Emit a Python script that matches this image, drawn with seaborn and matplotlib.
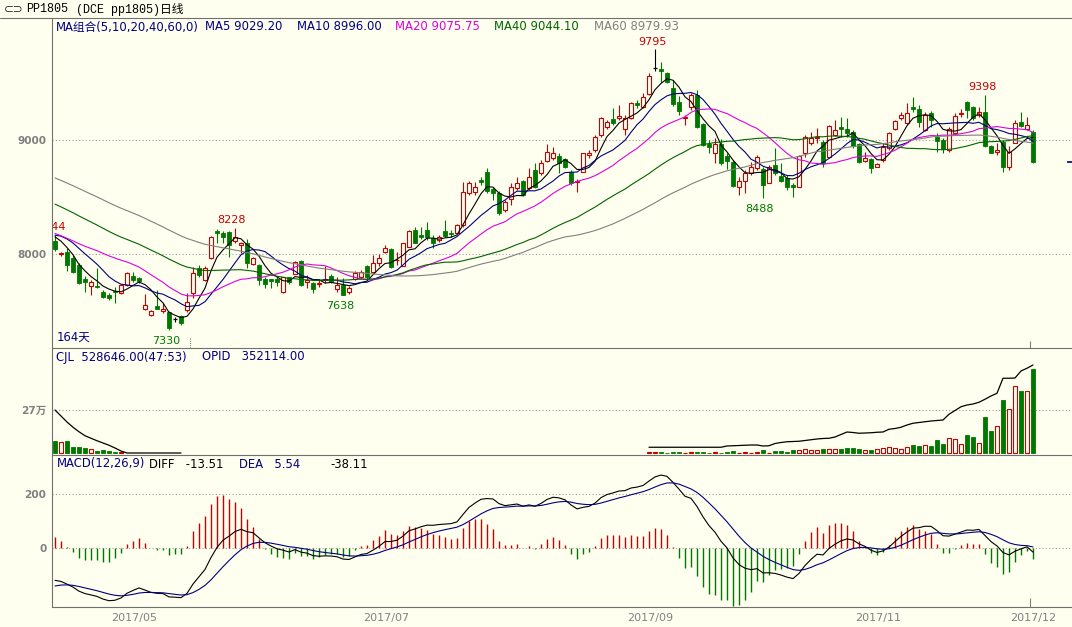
import numpy as np
import pandas as pd
import seaborn as sns
import matplotlib.pyplot as plt
from matplotlib.patches import Rectangle
from matplotlib.lines import Line2D

# closes before the first visible bar, only used so MA / MACD start at the right level
hist_close = [9300, 9280, 9250, 9260, 9220, 9200, 9180, 9170, 9150, 9130,
              9120, 9100, 9080, 9060, 9050, 9030, 9010, 9000, 8980, 8960,
              8950, 8920, 8900, 8870, 8840, 8800, 8780, 8750, 8720, 8700,
              8680, 8650, 8630, 8600, 8580, 8550, 8530, 8500, 8480, 8450,
              8400, 8350, 8300, 8250, 8200, 8150, 8100, 8080, 8060, 8050,
              8100, 8150, 8200, 8220, 8230, 8200, 8180, 8160, 8170]

opens = [8110, 8000, 8021, 7968, 7904, 7778, 7720, 7720, 7670, 7640,
         7678, 7655, 7728, 7807, 7787, 7515, 7465, 7544, 7500, 7494,
         7430, 7456, 7509, 7655, 7875, 7772, 7962, 8205, 8187, 8196,
         8117, 8079, 8100, 7910, 7904, 7778, 7778, 7778, 7670, 7795,
         7825, 7939, 7757, 7743, 7737, 7772, 7807, 7690, 7728, 7670,
         7777, 7801, 7894, 7845, 7923, 8020, 8040, 7945, 7897, 8064,
         8210, 8166, 8210, 8137, 8122, 8201, 8187, 8187, 8254, 8532,
         8546, 8649, 8722, 8570, 8535, 8390, 8480, 8576, 8643, 8576,
         8737, 8707, 8818, 8839, 8860, 8836, 8722, 8634, 8722, 8868,
         8912, 9044, 9111, 9181, 9190, 9094, 9190, 9321, 9292, 9404,
         9629, 9620, 9585, 9459, 9336, 9190, 9287, 9395, 9140, 8965,
         8889, 8965, 8860, 8810, 8591, 8643, 8713, 8751, 8743, 8626,
         8781, 8684, 8664, 8605, 8591, 8883, 8970, 9015, 8985, 8848,
         9044, 9117, 9094, 9073, 8965, 8819, 8830, 8766, 8825, 8927,
         9094, 9190, 9147, 9286, 9269, 9088, 9240, 9029, 9000, 8912,
         9058, 9228, 9336, 9286, 9219, 9248, 8947, 8898, 8985, 8760,
         8976, 9161, 9094, 9073]
highs = [8165, 8015, 8050, 7990, 7918, 7807, 7772, 7874, 7680, 7661,
         7708, 7740, 7845, 7845, 7796, 7646, 7505, 7685, 7567, 7500,
         7450, 7465, 7655, 7889, 7904, 7890, 8160, 8217, 8205, 8205,
         8228, 8108, 8129, 7970, 7910, 7795, 7784, 7795, 7801, 7801,
         7940, 7948, 7816, 7757, 7778, 7895, 7825, 7796, 7787, 7720,
         7850, 7860, 7900, 7990, 7997, 8078, 8050, 8020, 8100, 8210,
         8240, 8240, 8283, 8166, 8166, 8298, 8210, 8260, 8634, 8640,
         8634, 8678, 8751, 8590, 8550, 8470, 8620, 8678, 8649, 8751,
         8795, 8825, 8965, 8940, 8883, 8839, 8737, 8655, 8890, 8912,
         9046, 9205, 9175, 9277, 9307, 9220, 9336, 9350, 9415, 9585,
         9795, 9687, 9600, 9527, 9386, 9219, 9409, 9439, 9146, 9000,
         9015, 9006, 8883, 8820, 8678, 8737, 8810, 8868, 8766, 8780,
         8927, 8795, 8693, 8620, 8868, 9044, 9073, 9102, 9000, 9132,
         9175, 9205, 9190, 9088, 8976, 8898, 8839, 8795, 8970, 9073,
         9175, 9248, 9322, 9374, 9307, 9248, 9257, 9058, 9015, 9117,
         9234, 9269, 9345, 9298, 9286, 9398, 8956, 8970, 9000, 8947,
         9175, 9248, 9205, 9088]
lows = [8030, 7980, 7854, 7835, 7740, 7670, 7640, 7700, 7610, 7597,
        7568, 7650, 7720, 7757, 7743, 7509, 7460, 7515, 7480, 7330,
        7405, 7380, 7494, 7611, 7800, 7765, 7955, 8100, 8094, 7977,
        8100, 8006, 7875, 7905, 7725, 7700, 7700, 7720, 7655, 7737,
        7820, 7720, 7700, 7661, 7708, 7749, 7749, 7670, 7638, 7650,
        7770, 7790, 7770, 7830, 7895, 8005, 7875, 7903, 7890, 8060,
        8093, 8128, 8122, 8050, 8108, 8152, 8152, 8180, 8240, 8517,
        8517, 8605, 8532, 8473, 8340, 8370, 8430, 8561, 8508, 8561,
        8576, 8693, 8810, 8825, 8708, 8751, 8605, 8547, 8715, 8839,
        8898, 9029, 9100, 9131, 9175, 9044, 9181, 9277, 9277, 9395,
        9608, 9512, 9503, 9300, 9219, 9132, 9263, 9102, 8950, 8889,
        8795, 8781, 8743, 8590, 8517, 8532, 8693, 8737, 8488, 8620,
        8693, 8634, 8561, 8500, 8585, 8854, 8956, 8970, 8766, 8839,
        9035, 9029, 9029, 8927, 8795, 8810, 8708, 8760, 8810, 8910,
        9088, 9175, 9140, 9248, 9117, 9080, 9117, 8898, 8889, 8898,
        9044, 9200, 9190, 9175, 9205, 8942, 8883, 8868, 8722, 8737,
        8970, 9117, 9088, 8795]
closes = [8041, 8008, 7904, 7845, 7743, 7758, 7758, 7713, 7620, 7611,
          7667, 7728, 7836, 7772, 7766, 7553, 7500, 7520, 7515, 7348,
          7430, 7392, 7582, 7836, 7816, 7875, 8152, 8182, 8152, 8079,
          8152, 8100, 7918, 7962, 7772, 7737, 7764, 7757, 7795, 7757,
          7933, 7728, 7772, 7690, 7749, 7784, 7757, 7728, 7641, 7700,
          7830, 7845, 7795, 7918, 7967, 8055, 7883, 7950, 8093, 8201,
          8099, 8146, 8152, 8099, 8152, 8157, 8175, 8254, 8546, 8625,
          8590, 8631, 8555, 8532, 8360, 8460, 8590, 8625, 8517, 8678,
          8591, 8795, 8898, 8883, 8801, 8760, 8620, 8643, 8883, 8889,
          9029, 9190, 9161, 9152, 9210, 9190, 9327, 9307, 9380, 9561,
          9629, 9602, 9512, 9316, 9257, 9205, 9395, 9117, 8956, 8942,
          8965, 8795, 8819, 8597, 8643, 8713, 8766, 8854, 8605, 8760,
          8708, 8643, 8591, 8585, 8860, 9029, 9014, 9029, 8801, 9123,
          9088, 9094, 9058, 8947, 8810, 8839, 8751, 8787, 8936, 9058,
          9170, 9219, 9240, 9269, 9161, 9219, 9175, 8994, 8918, 9094,
          9210, 9240, 9263, 9190, 9248, 8947, 8889, 8912, 8766, 8898,
          9146, 9123, 9132, 8810]

volume = [75000, 67000, 75000, 36000, 36000, 29000, 23000, 15000, 19000, 13000,
          8000, 4000, 0, 0, 0, 0, 0, 0, 0, 0,
          0, 0, 0, 0, 0, 0, 0, 0, 0, 0,
          0, 0, 0, 0, 0, 0, 0, 0, 0, 0,
          0, 0, 0, 0, 0, 0, 0, 0, 0, 0,
          0, 0, 0, 0, 0, 0, 0, 0, 0, 0,
          0, 0, 0, 0, 0, 0, 0, 0, 0, 0,
          0, 0, 0, 0, 0, 0, 0, 0, 0, 0,
          0, 0, 0, 0, 0, 0, 0, 0, 0, 0,
          0, 0, 0, 0, 0, 0, 0, 0, 0, 4000,
          4000, 4000, 2000, 4000, 4000, 3000, 4000, 4000, 4000, 2000,
          4000, 2000, 4000, 10000, 2000, 4000, 1000, 4000, 19000, 2000,
          10000, 10000, 4000, 19000, 19000, 23000, 19000, 19000, 23000, 23000,
          23000, 25000, 29000, 29000, 23000, 19000, 19000, 25000, 29000, 40000,
          29000, 25000, 40000, 48000, 44000, 48000, 44000, 82000, 57000, 92000,
          86000, 54000, 111000, 98000, 61000, 224000, 140000, 170000, 333000, 276000,
          421000, 391000, 389000, 528646]

nan = np.nan
opid = [172000, 148000, 124000, 103000, 85000, 69000, 59000, 49000, 40000, 31000,
        20000, 8000, 0, 0, 0, 0, 0, 0, 0, 0,
        0, 0, nan, nan, nan, nan, nan, nan, nan, nan,
        nan, nan, nan, nan, nan, nan, nan, nan, nan, nan,
        nan, nan, nan, nan, nan, nan, nan, nan, nan, nan,
        nan, nan, nan, nan, nan, nan, nan, nan, nan, nan,
        nan, nan, nan, nan, nan, nan, nan, nan, nan, nan,
        nan, nan, nan, nan, nan, nan, nan, nan, nan, nan,
        nan, nan, nan, nan, nan, nan, nan, nan, nan, nan,
        nan, nan, nan, nan, nan, nan, nan, nan, nan, 23000,
        23000, 23000, 23000, 23000, 23000, 23000, 23000, 23000, 23000, 23000,
        23000, 23000, 28000, 29000, 30000, 31000, 32000, 32000, 28000, 29000,
        38000, 42000, 45000, 46000, 47000, 50000, 53000, 56000, 58000, 59000,
        64000, 74000, 84000, 82000, 79000, 80000, 81000, 83000, 84000, 95000,
        98000, 103000, 112000, 119000, 122000, 125000, 128000, 130000, 132000, 155000,
        170000, 185000, 192000, 196000, 203000, 215000, 228000, 239000, 299000, 299000,
        300000, 328000, 339000, 352114]

month_idx = [17, 59, 103, 141, 163]
month_labels = ["2017/05", "2017/07", "2017/09", "2017/11", "2017/12"]

# marked extremes: bar index, printed value, high or low
mark_idx = [0, 19, 30, 48, 100, 118, 155]
mark_text = ["8244", "7330", "8228", "7638", "9795", "8488", "9398"]
mark_high = [True, False, True, False, True, False, True]

ma_head = ["MA组合(5,10,20,40,60,0)", "MA5 9029.20", "MA10 8996.00",
           "MA20 9075.75", "MA40 9044.10", "MA60 8979.93"]

# ---------------------------------------------------------------
BG = "#FFFFF0"
UP = "#C80000"
DN = "#007800"
NAVY = "#000080"
MAGENTA = "#E000E0"
GRAY = "#808080"
AXC = "#707070"

sns.set_style("white", {"axes.facecolor": BG, "figure.facecolor": BG})
plt.rcParams["font.family"] = ["DejaVu Sans", "Noto Sans CJK SC"]

n = len(closes)
idx = np.arange(n)
full = pd.Series(hist_close + closes, dtype=float)
nh = len(hist_close)
ma = {p: full.rolling(p).mean().values[nh:] for p in (5, 10, 20, 40, 60)}
ema12 = full.ewm(span=12, adjust=False).mean()
ema26 = full.ewm(span=26, adjust=False).mean()
diff = ema12 - ema26
dea = diff.ewm(span=9, adjust=False).mean()
diff = diff.values[nh:]
dea = dea.values[nh:]
macd = 2 * (diff - dea)

W, H = 1072, 627
fig = plt.figure(figsize=(W / 100, H / 100), dpi=100)
fig.patch.set_facecolor(BG)


def rect(x0, y0, x1, y1):
    return [x0 / W, 1 - y1 / H, (x1 - x0) / W, (y1 - y0) / H]


ax_p = fig.add_axes(rect(52, 18, 1072, 348))
ax_v = fig.add_axes(rect(52, 348, 1072, 455))
ax_m = fig.add_axes(rect(52, 455, 1072, 607))
XL = (-0.5, 169.5)
for ax in (ax_p, ax_v, ax_m):
    ax.set_facecolor(BG)
    ax.set_xlim(*XL)
    for s in ax.spines.values():
        s.set_visible(False)
    ax.tick_params(axis="both", length=0, labelsize=7.6, labelcolor=GRAY, pad=4)
    ax.set_xticks([])

ax_p.set_ylim(7175, 10070)
ax_v.set_ylim(-12558, 659300)
ax_m.set_ylim(-217.5, 345.8)

# grid
for ax, levels in ((ax_p, [8000, 9000]), (ax_v, [270000]), (ax_m, [0, 200])):
    ax.hlines(levels, *XL, colors="#A0A0A0", linestyles=(0, (1, 2)), lw=0.8, zorder=0)

ax_p.set_yticks([8000, 9000], ["8000", "9000"], fontweight="bold")
ax_v.set_yticks([270000], ["27万"], fontweight="bold")
ax_m.set_yticks([0, 200], ["0", "200"], fontweight="bold")

# ---- candles ----
bw = 0.78
for i in range(n):
    o, h, l, c = opens[i], highs[i], lows[i], closes[i]
    col = UP if c > o else (DN if c < o else "black")
    ax_p.vlines(i, l, h, color=col, lw=0.8, zorder=2)
    if c > o:
        ax_p.add_patch(Rectangle((i - bw / 2, o), bw, c - o, facecolor=BG,
                                 edgecolor=col, lw=0.8, zorder=3))
    elif c < o:
        ax_p.add_patch(Rectangle((i - bw / 2, c), bw, o - c, facecolor=col,
                                 edgecolor=col, lw=0.6, zorder=3))
    else:
        ax_p.hlines(o, i - bw / 2, i + bw / 2, color=col, lw=0.9, zorder=3)

ma_cols = {5: "black", 10: NAVY, 20: MAGENTA, 40: "#006400", 60: GRAY}
for p, col in ma_cols.items():
    sns.lineplot(x=idx, y=ma[p], ax=ax_p, color=col, linewidth=0.8, zorder=4)

for i, txt, hi in zip(mark_idx, mark_text, mark_high):
    if hi:
        ax_p.annotate(txt, (i - 0.5, highs[i]), xytext=(0, 2), textcoords="offset points",
                      ha="center", va="bottom", color=UP, fontsize=8, clip_on=True)
    else:
        ax_p.annotate(txt, (i - 0.5, lows[i]), xytext=(0, -4), textcoords="offset points",
                      ha="center", va="top", color=DN, fontsize=8, clip_on=True)

ax_p.hlines(closes[-1], 168.6, 169.5, color=NAVY, lw=1.2)
ax_p.vlines(22.5, 7175, 7175 + 95, color=GRAY, lw=0.8, linestyles=(0, (1, 1)))
ax_p.vlines(162.5, 7175, 7175 + 65, color=GRAY, lw=0.8)
ax_p.text(0.2, 7175 + 92, "164天", color=NAVY, fontsize=8.4, ha="left", va="center")

# ---- volume ----
for i in range(n):
    v = volume[i]
    if v <= 0:
        continue
    if closes[i] >= opens[i]:
        ax_v.add_patch(Rectangle((i - bw / 2, 0), bw, v, facecolor=BG, edgecolor=UP, lw=0.8))
    else:
        ax_v.add_patch(Rectangle((i - bw / 2, 0), bw, v, facecolor=DN, edgecolor=DN, lw=0.6))
ax_o = ax_v.twinx()
ax_o.set_ylim(-8000, 420000)
ax_o.set_xlim(*XL)
ax_o.axis("off")
ax_o.plot(idx, opid, color="black", lw=0.9)

# ---- MACD ----
ax_m.vlines(idx, 0, macd, colors=[UP if m >= 0 else DN for m in macd], lw=1.0)
sns.lineplot(x=idx, y=diff, ax=ax_m, color="black", linewidth=0.8)
sns.lineplot(x=idx, y=dea, ax=ax_m, color=NAVY, linewidth=0.8)
ax_m.vlines(162.5, -217.5, -217.5 + 33, color=GRAY, lw=0.8)

ax_m.set_xticks(month_idx, month_labels)
ax_m.tick_params(axis="x", labelsize=8, labelcolor=GRAY, pad=4)
for k, lab in enumerate(ax_m.get_xticklabels()):
    lab.set_ha("center" if k == len(month_labels) - 1 else "right")
for ax in (ax_p, ax_v, ax_m):
    ax.set_ylabel("")
    ax.set_xlabel("")

# ---- frame lines ----
def hline(y, x0, x1):
    fig.add_artist(Line2D([x0 / W, x1 / W], [1 - y / H, 1 - y / H], color=AXC, lw=0.8))

hline(18, 0, 1072)
hline(348, 52, 1072)
hline(455, 52, 1072)
hline(607, 52, 1072)
fig.add_artist(Line2D([52 / W, 52 / W], [1 - 18 / H, 1 - 607 / H], color=AXC, lw=0.8))

# ---- header texts ----
def ftext(x, y, s, color, size=8.4, **kw):
    fig.text(x / W, 1 - y / H, s, color=color, fontsize=size, va="center", ha="left", **kw)

ftext(4, 9, "⊂⊃", "#303030", size=8.5)
ftext(26, 9, "PP1805", "black", size=8.5, family=["Liberation Mono", "Noto Sans CJK SC"])
ftext(76, 9, "(DCE pp1805)日线", "black", size=8.5, family=["Liberation Mono", "Noto Sans CJK SC"])

head_x = [56, 205, 297, 395, 494, 594]
head_c = [NAVY, NAVY, NAVY, MAGENTA, "#006400", GRAY]
for x, s, c in zip(head_x, ma_head, head_c):
    ftext(x, 27, s, c)

ftext(56, 357, "CJL  528646.00(47:53)", NAVY)
ftext(202, 357, "OPID   352114.00", NAVY)

ftext(57, 464, "MACD(12,26,9)", NAVY)
ftext(149, 464, "DIFF   -13.51", "black")
ftext(239, 464, "DEA   5.54", NAVY)
ftext(330, 464, "-38.11", "black")

fig.savefig("out.png", dpi=100, facecolor=BG)
